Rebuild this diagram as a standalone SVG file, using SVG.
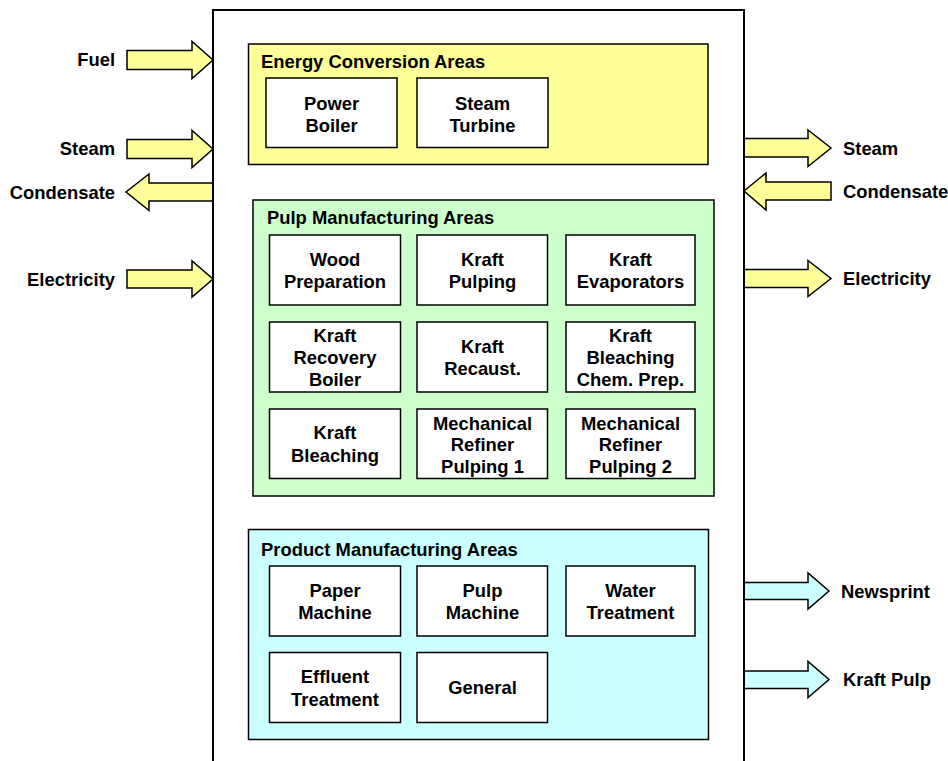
<svg xmlns="http://www.w3.org/2000/svg" width="948" height="761" viewBox="0 0 948 761">
<style>
text{font-family:"Liberation Sans",Arial,sans-serif;font-weight:bold;font-size:18.4px;fill:#000}
.c{text-anchor:middle}
.r{text-anchor:end}
.box{fill:#fff;stroke:#000;stroke-width:1.5}
.y{fill:#ffff99;stroke:#000;stroke-width:1.5}
.g{fill:#ccffcc;stroke:#000;stroke-width:1.5}
.b{fill:#ccffff;stroke:#000;stroke-width:1.5}
</style>
<rect width="948" height="761" fill="#fff"/>
<g id="connectors">
<polygon class="y" points="127,50.5 192,50.5 192,41.5 213,60 192,78.5 192,69.5 127,69.5"/>
<polygon class="y" points="127,139.5 192,139.5 192,130.5 213,149 192,167.5 192,158.5 127,158.5"/>
<polygon class="y" points="213,183 149,183 149,174 126,192 149,210.5 149,201 213,201"/>
<polygon class="y" points="127,270 192,270 192,261 213,279 192,297 192,288 127,288"/>
<polygon class="y" points="744,138.5 808,138.5 808,130 831,148 808,166.5 808,157 744,157"/>
<polygon class="y" points="831,182 766,182 766,173 744,191 766,210 766,200 831,200"/>
<polygon class="y" points="744,269.5 808,269.5 808,260.5 831,278.5 808,296.5 808,287.5 744,287.5"/>
<polygon class="b" points="744,582.5 808,582.5 808,573 829,591 808,609 808,599.5 744,599.5"/>
<polygon class="b" points="744,671 808,671 808,661.5 829,679.5 808,697.5 808,688.5 744,688.5"/>
</g>
<g id="labels">
<text class="r" x="115" y="66">Fuel</text>
<text class="r" x="115" y="155">Steam</text>
<text class="r" x="115" y="198.5">Condensate</text>
<text class="r" x="115" y="285.5">Electricity</text>
<text x="843" y="154.5">Steam</text>
<text x="843" y="198">Condensate</text>
<text x="843" y="284.5">Electricity</text>
<text x="841" y="597.5">Newsprint</text>
<text x="843" y="686">Kraft Pulp</text>
</g>
<g id="plant">
<rect x="213" y="10" width="531" height="770" fill="#fff" stroke="#000" stroke-width="2"/>
</g>
<g id="energy">
<rect class="y" x="248.5" y="44" width="459.5" height="120.5" stroke-width="2"/>
<text x="261" y="68">Energy Conversion Areas</text>
</g>
<g id="power-boiler"><rect class="box" x="266" y="78" width="131" height="69.5"/><text class="c" x="331.5" y="109.5">Power</text><text class="c" x="331.5" y="131.5">Boiler</text></g>
<g id="steam-turbine"><rect class="box" x="417" y="78" width="131" height="69.5"/><text class="c" x="482.5" y="109.5">Steam</text><text class="c" x="482.5" y="131.5">Turbine</text></g>
<g id="pulp">
<rect class="g" x="253" y="200" width="461" height="296" stroke-width="2"/>
<text x="267" y="224">Pulp Manufacturing Areas</text>
</g>
<g id="wood-prep"><rect class="box" x="269.5" y="235" width="131" height="70"/><text class="c" x="335" y="265.5">Wood</text><text class="c" x="335" y="288">Preparation</text></g>
<g id="kraft-pulping"><rect class="box" x="417" y="235" width="130.5" height="70"/><text class="c" x="482.5" y="265.5">Kraft</text><text class="c" x="482.5" y="288">Pulping</text></g>
<g id="kraft-evap"><rect class="box" x="566" y="235" width="129" height="70"/><text class="c" x="630.5" y="265.5">Kraft</text><text class="c" x="630.5" y="288">Evaporators</text></g>
<g id="kraft-recovery"><rect class="box" x="269.5" y="322" width="131" height="70"/><text class="c" x="335" y="342">Kraft</text><text class="c" x="335" y="364">Recovery</text><text class="c" x="335" y="386">Boiler</text></g>
<g id="kraft-recaust"><rect class="box" x="417" y="322" width="130.5" height="70"/><text class="c" x="482.5" y="352.5">Kraft</text><text class="c" x="482.5" y="375">Recaust.</text></g>
<g id="kraft-bleach-chem"><rect class="box" x="566" y="322" width="129" height="70"/><text class="c" x="630.5" y="342">Kraft</text><text class="c" x="630.5" y="364">Bleaching</text><text class="c" x="630.5" y="386">Chem. Prep.</text></g>
<g id="kraft-bleaching"><rect class="box" x="269.5" y="409" width="131" height="69.5"/><text class="c" x="335" y="439">Kraft</text><text class="c" x="335" y="462">Bleaching</text></g>
<g id="mech-1"><rect class="box" x="417" y="409" width="130.5" height="69.5"/><text class="c" x="482.5" y="429.5">Mechanical</text><text class="c" x="482.5" y="451">Refiner</text><text class="c" x="482.5" y="473">Pulping 1</text></g>
<g id="mech-2"><rect class="box" x="566" y="409" width="129" height="69.5"/><text class="c" x="630.5" y="429.5">Mechanical</text><text class="c" x="630.5" y="451">Refiner</text><text class="c" x="630.5" y="473">Pulping 2</text></g>
<g id="product">
<rect class="b" x="248.5" y="529.5" width="460" height="210" stroke-width="2"/>
<text x="261" y="555.5">Product Manufacturing Areas</text>
</g>
<g id="paper-machine"><rect class="box" x="269.5" y="566" width="131" height="70"/><text class="c" x="335" y="596.5">Paper</text><text class="c" x="335" y="619">Machine</text></g>
<g id="pulp-machine"><rect class="box" x="417" y="566" width="130.5" height="70"/><text class="c" x="482.5" y="596.5">Pulp</text><text class="c" x="482.5" y="619">Machine</text></g>
<g id="water-treatment"><rect class="box" x="566" y="566" width="129" height="70"/><text class="c" x="630.5" y="596.5">Water</text><text class="c" x="630.5" y="619">Treatment</text></g>
<g id="effluent"><rect class="box" x="269.5" y="652.5" width="131" height="70"/><text class="c" x="335" y="683">Effluent</text><text class="c" x="335" y="706">Treatment</text></g>
<g id="general"><rect class="box" x="417" y="652.5" width="130.5" height="70"/><text class="c" x="482.5" y="694">General</text></g>
</svg>
